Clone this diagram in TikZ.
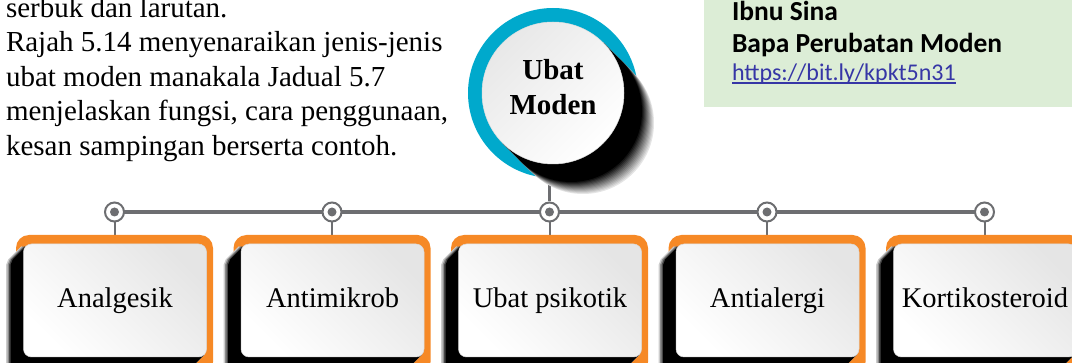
\documentclass[tikz,border=0pt]{standalone}
\usepackage{fontspec}
\setmainfont{Liberation Serif}
\newfontfamily\calibri{Carlito}
\definecolor{ubgray}{RGB}{109,110,113}
\definecolor{ubblue}{RGB}{0,169,204}
\definecolor{uborange}{RGB}{246,137,38}
\definecolor{ubgreen}{RGB}{220,237,214}
\definecolor{ublink}{RGB}{54,54,166}
\pgfdeclarelayer{bg}
\pgfsetlayers{bg,main}
\begin{document}
\begin{tikzpicture}[x=1pt,y=-1pt,
  txt/.style={inner sep=0pt, outer sep=0pt},
  para/.style={txt, anchor=base west, font=\fontsize{29}{34}\selectfont},
  boxtxt/.style={txt, anchor=base, font=\fontsize{28.5}{34}\selectfont},
  hubtxt/.style={txt, anchor=base, font=\bfseries\fontsize{29}{34}\selectfont},
  ring/.style={circle, draw=ubgray, line width=2pt, fill=white, minimum size=19pt, inner sep=0pt},
  dotm/.style={circle, fill=ubgray, minimum size=9pt, inner sep=0pt},
  bar/.style={ubgray, line width=4pt},
  stem/.style={ubgray, line width=2pt},
  stemthick/.style={ubgray, line width=3pt}]
\useasboundingbox (0,0) rectangle (1072,363);

% paragraph
\node[para] (p1) at (6,17.5) {serbuk dan larutan.};
\node[para] (p2) at (6,51.9) {Rajah 5.14 menyenaraikan jenis-jenis};
\node[para] (p3) at (6,86.3) {ubat moden manakala Jadual 5.7};
\node[para] (p4) at (6,120.7) {menjelaskan fungsi, cara penggunaan,};
\node[para] (p5) at (6,155.1) {kesan sampingan berserta contoh.};

% green info box
\fill[ubgreen] (704,0) rectangle (1072,107);
\node[txt, anchor=base west, font={\calibri\bfseries\fontsize{27.5}{33}\selectfont}] (g1) at (732,21) {Ibnu Sina};
\node[txt, anchor=base west, font={\calibri\bfseries\fontsize{27.5}{33}\selectfont}] (g2) at (732,53) {Bapa Perubatan Moden};
\node[txt, anchor=base west, text=ublink, font={\calibri\fontsize{24}{30}\selectfont}] (g3) at (732,81) {https://bit.ly/kpkt5n31};
\draw[ublink, line width=1.2pt] ([yshift=-2pt]g3.base west) -- ([yshift=-2pt]g3.base east);

% hub circle
\fill[ubblue] (553,93) circle[radius=85pt];
\foreach \j in {12,11,...,0} {
  \pgfmathsetmacro\d{18+\j}
  \pgfmathsetmacro\g{100-7.5*\j}
  \fill[black!\g] (603.2,42.8) -- (603.2+\d,42.8+\d) -- (502.8+\d,143.2+\d) -- (502.8,143.2) -- cycle;
  \fill[black!\g] (553+\d,93+\d) circle[radius=71pt];
}
\node[circle, minimum size=142pt, inner sep=0pt, shading=axis, top color=gray!18, bottom color=white, shading angle=45, draw=gray!25, line width=0.5pt] (hub) at (553,93) {};
\node[hubtxt] (h1) at (553,80) {Ubat};
\node[hubtxt] (h2) at (553,115) {Moden};

% boxes and markers
\foreach \c/\t [count=\i] in {114.5/Analgesik, 332/Antimikrob, 549.5/Ubat psikotik, 767/Antialergi, 984.5/Kortikosteroid} {
  \fill[uborange, rounded corners=13pt] (\c-98.5,235) rectangle (\c+98.5,375);
  \foreach \s/\g in {4.5/20, 3/45, 1.5/72, 0/100} {
    \fill[black!\g] (\c-88.7-\s,246.3) -- (\c-101.7-\s,259.3) -- (\c-104-\s,265) -- (\c-104-\s,380) -- (\c+64.4,380) -- (\c+89.7,354.7) -- cycle;
  }
  \shade[shading=axis, top color=gray!20, bottom color=white, shading angle=-45, draw=gray!30, line width=0.5pt, rounded corners=8pt] (\c-91,244) rectangle (\c+92,357);
  \node[boxtxt] (b\i) at (\c+0.5,308) {\t};
  \coordinate (t\i) at (\c,235);
  \node[ring] (r\i) at (\c,212) {};
  \node[dotm] (d\i) at (\c,212) {};
}

% connectors
\begin{pgfonlayer}{bg}
  \draw[bar] (d1.center) -- (d5.center);
  \draw[stemthick] (r3.north) -- (r3.north |- hub.center);
  \foreach \i in {1,...,5} {
    \draw[stem] (r\i.south) -- (t\i);
  }
\end{pgfonlayer}
\end{tikzpicture}
\end{document}
